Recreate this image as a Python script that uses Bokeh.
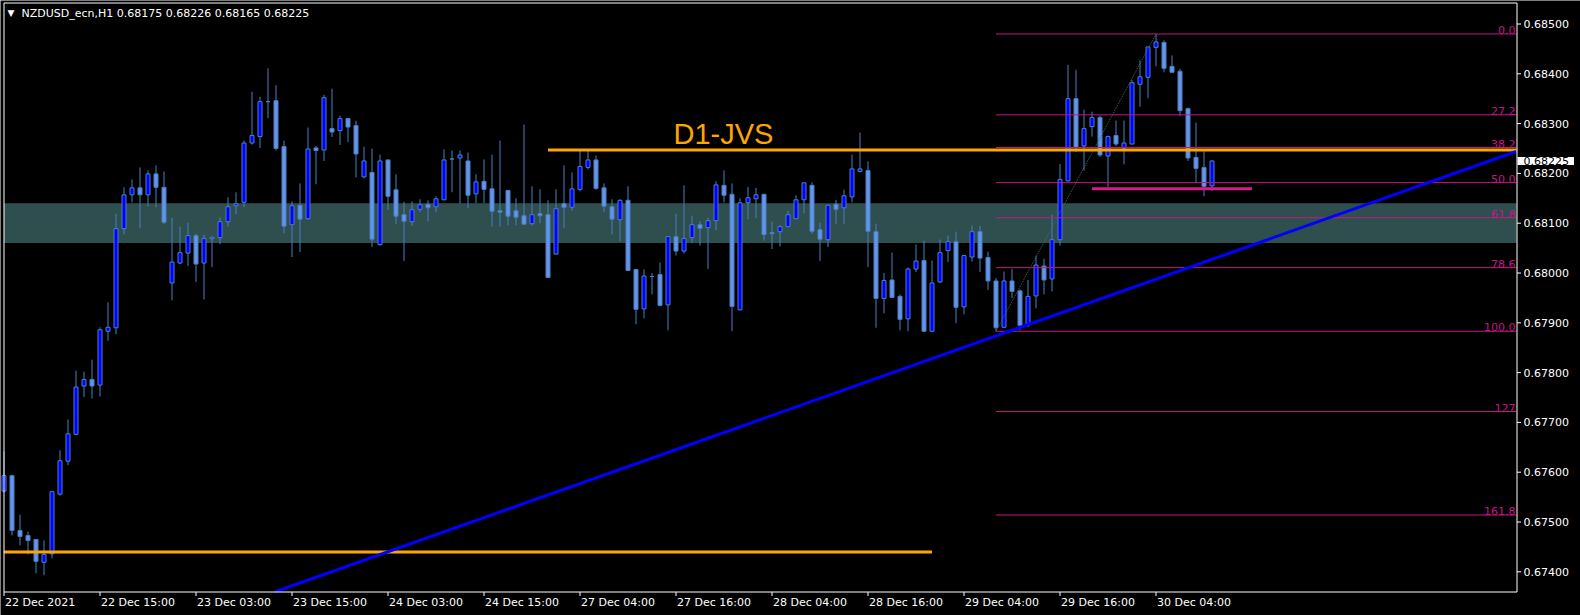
from bokeh.plotting import figure
from bokeh.models import Range1d, Label
from bokeh.core.properties import value
from bokeh.embed import file_html
from bokeh.resources import INLINE

# ---------------- data (NZDUSD_ecn, H1) ----------------
OPEN = [0.67562, 0.67593, 0.67483, 0.67473, 0.67465, 0.67419, 0.67436, 0.67556, 0.67622, 0.67676,
        0.67773, 0.67786, 0.67775, 0.67883, 0.67890, 0.68089, 0.68157, 0.68171, 0.68157, 0.68199,
        0.68172, 0.67980, 0.68020, 0.68040, 0.68075, 0.68020, 0.68069, 0.68071, 0.68103, 0.68135,
        0.68142, 0.68261, 0.68274, 0.68344, 0.68346, 0.68254, 0.68097, 0.68136, 0.68109, 0.68251,
        0.68247, 0.68290, 0.68286, 0.68310, 0.68296, 0.68193, 0.68202, 0.68057, 0.68227, 0.68167,
        0.68117, 0.68103, 0.68128, 0.68138, 0.68133, 0.68147, 0.68229, 0.68231, 0.68225, 0.68159,
        0.68184, 0.68169, 0.68125, 0.68166, 0.68125, 0.68115, 0.68099, 0.68119, 0.68117, 0.68038,
        0.68139, 0.68132, 0.68168, 0.68212, 0.68227, 0.68171, 0.68133, 0.68107, 0.68146, 0.68007,
        0.67928, 0.67993, 0.67997, 0.67936, 0.68073, 0.68044, 0.68071, 0.68097, 0.68091, 0.68105,
        0.68176, 0.68158, 0.67926, 0.68141, 0.68149, 0.68158, 0.68081, 0.68083, 0.68093, 0.68109,
        0.68147, 0.68176, 0.68087, 0.68067, 0.68138, 0.68131, 0.68153, 0.68204, 0.68206, 0.68083,
        0.67949, 0.67986, 0.67953, 0.67908, 0.68008, 0.68025, 0.67883, 0.67982, 0.68045, 0.68063,
        0.67932, 0.68032, 0.68083, 0.68031, 0.67984, 0.67891, 0.67984, 0.67964, 0.67895, 0.67954,
        0.68014, 0.67988, 0.68067, 0.68185, 0.68350, 0.68255, 0.68294, 0.68312, 0.68235, 0.68276,
        0.68251, 0.68259, 0.68379, 0.68393, 0.68453, 0.68463, 0.68415, 0.68405, 0.68330, 0.68232,
        0.68212, 0.68175]
HIGH = [0.67642, 0.67595, 0.67515, 0.67481, 0.67466, 0.67463, 0.67561, 0.67644, 0.67706, 0.67804,
        0.67802, 0.67826, 0.67891, 0.67941, 0.68119, 0.68172, 0.68188, 0.68212, 0.68206, 0.68216,
        0.68204, 0.68111, 0.68093, 0.68101, 0.68079, 0.68077, 0.68073, 0.68112, 0.68152, 0.68162,
        0.68266, 0.68364, 0.68354, 0.68411, 0.68377, 0.68266, 0.68144, 0.68180, 0.68292, 0.68255,
        0.68358, 0.68370, 0.68316, 0.68311, 0.68306, 0.68254, 0.68250, 0.68238, 0.68228, 0.68198,
        0.68143, 0.68144, 0.68148, 0.68146, 0.68154, 0.68248, 0.68246, 0.68246, 0.68242, 0.68198,
        0.68228, 0.68238, 0.68266, 0.68166, 0.68150, 0.68298, 0.68174, 0.68168, 0.68146, 0.68168,
        0.68216, 0.68202, 0.68246, 0.68246, 0.68236, 0.68180, 0.68148, 0.68148, 0.68174, 0.68008,
        0.68007, 0.68000, 0.68021, 0.68073, 0.68119, 0.68176, 0.68115, 0.68104, 0.68111, 0.68184,
        0.68206, 0.68180, 0.68150, 0.68173, 0.68171, 0.68159, 0.68103, 0.68096, 0.68125, 0.68156,
        0.68182, 0.68182, 0.68101, 0.68136, 0.68147, 0.68167, 0.68238, 0.68282, 0.68224, 0.68099,
        0.68000, 0.68041, 0.67957, 0.68011, 0.68057, 0.68065, 0.68025, 0.68067, 0.68075, 0.68083,
        0.68035, 0.68095, 0.68095, 0.68043, 0.67990, 0.68003, 0.68008, 0.67967, 0.67986, 0.68035,
        0.68029, 0.68117, 0.68219, 0.68418, 0.68408, 0.68328, 0.68324, 0.68316, 0.68276, 0.68306,
        0.68306, 0.68388, 0.68427, 0.68454, 0.68480, 0.68467, 0.68437, 0.68410, 0.68332, 0.68302,
        0.68244, 0.68226]
LOW = [0.67560, 0.67473, 0.67453, 0.67435, 0.67397, 0.67393, 0.67427, 0.67553, 0.67614, 0.67674,
       0.67751, 0.67748, 0.67752, 0.67864, 0.67877, 0.68077, 0.68142, 0.68090, 0.68134, 0.68132,
       0.68098, 0.67945, 0.68018, 0.68014, 0.67982, 0.67947, 0.68012, 0.68058, 0.68093, 0.68118,
       0.68132, 0.68258, 0.68251, 0.68311, 0.68246, 0.68080, 0.68032, 0.68042, 0.68107, 0.68178,
       0.68225, 0.68273, 0.68257, 0.68263, 0.68192, 0.68190, 0.68052, 0.68055, 0.68127, 0.68098,
       0.68024, 0.68094, 0.68122, 0.68104, 0.68122, 0.68146, 0.68162, 0.68139, 0.68130, 0.68140,
       0.68140, 0.68093, 0.68093, 0.68096, 0.68096, 0.68096, 0.68095, 0.68100, 0.67990, 0.68037,
       0.68091, 0.68125, 0.68164, 0.68208, 0.68167, 0.68123, 0.68077, 0.68064, 0.68004, 0.67897,
       0.67909, 0.67957, 0.67933, 0.67885, 0.68035, 0.68039, 0.68060, 0.68055, 0.68008, 0.68086,
       0.68142, 0.67883, 0.67925, 0.68108, 0.68110, 0.68065, 0.68048, 0.68053, 0.68092, 0.68108,
       0.68120, 0.68079, 0.68024, 0.68052, 0.68098, 0.68098, 0.68142, 0.68202, 0.68012, 0.67890,
       0.67919, 0.67950, 0.67885, 0.67883, 0.68002, 0.67882, 0.67881, 0.67980, 0.68022, 0.67899,
       0.67917, 0.68023, 0.68002, 0.67966, 0.67883, 0.67890, 0.67950, 0.67885, 0.67891, 0.67929,
       0.67957, 0.67963, 0.68055, 0.68184, 0.68243, 0.68206, 0.68274, 0.68233, 0.68172, 0.68255,
       0.68218, 0.68258, 0.68334, 0.68351, 0.68415, 0.68403, 0.68403, 0.68315, 0.68225, 0.68181,
       0.68154, 0.68165]
CLOSE = [0.67593, 0.67483, 0.67471, 0.67463, 0.67421, 0.67435, 0.67561, 0.67623, 0.67677, 0.67771,
         0.67786, 0.67773, 0.67886, 0.67891, 0.68089, 0.68157, 0.68171, 0.68157, 0.68199, 0.68172,
         0.68102, 0.68022, 0.68041, 0.68075, 0.68018, 0.68069, 0.68072, 0.68103, 0.68133, 0.68139,
         0.68261, 0.68276, 0.68344, 0.68344, 0.68250, 0.68094, 0.68135, 0.68108, 0.68249, 0.68246,
         0.68352, 0.68283, 0.68310, 0.68293, 0.68239, 0.68225, 0.68068, 0.68225, 0.68154, 0.68114,
         0.68104, 0.68127, 0.68137, 0.68131, 0.68149, 0.68227, 0.68229, 0.68237, 0.68156, 0.68183,
         0.68168, 0.68124, 0.68122, 0.68114, 0.68112, 0.68098, 0.68117, 0.68115, 0.67991, 0.68129,
         0.68132, 0.68169, 0.68214, 0.68227, 0.68170, 0.68134, 0.68108, 0.68146, 0.68005, 0.67927,
         0.67994, 0.67993, 0.67935, 0.68073, 0.68044, 0.68069, 0.68097, 0.68090, 0.68105, 0.68177,
         0.68156, 0.67933, 0.68141, 0.68151, 0.68157, 0.68077, 0.68079, 0.68093, 0.68117, 0.68147,
         0.68181, 0.68084, 0.68068, 0.68136, 0.68128, 0.68155, 0.68209, 0.68209, 0.68084, 0.67949,
         0.67985, 0.67951, 0.67907, 0.68008, 0.68024, 0.67883, 0.67980, 0.68041, 0.68063, 0.67931,
         0.68035, 0.68083, 0.68030, 0.67984, 0.67890, 0.67984, 0.67963, 0.67895, 0.67953, 0.68016,
         0.67986, 0.68067, 0.68188, 0.68350, 0.68253, 0.68290, 0.68312, 0.68237, 0.68274, 0.68259,
         0.68261, 0.68382, 0.68394, 0.68454, 0.68464, 0.68411, 0.68403, 0.68326, 0.68231, 0.68210,
         0.68174, 0.68225]

TIME_TICKS = [0, 12, 24, 36, 48, 60, 72, 84, 96, 108, 120, 132, 144]
TIME_LABELS = ["22 Dec 2021", "22 Dec 15:00", "23 Dec 03:00", "23 Dec 15:00",
               "24 Dec 03:00", "24 Dec 15:00", "27 Dec 04:00", "27 Dec 16:00",
               "28 Dec 04:00", "28 Dec 16:00", "29 Dec 04:00", "29 Dec 16:00",
               "30 Dec 04:00"]
PRICE_TICKS = [0.674, 0.675, 0.676, 0.677, 0.678, 0.679,
               0.680, 0.681, 0.682, 0.683, 0.684, 0.685]

FIB_LEVELS = [0.0, 0.272, 0.382, 0.5, 0.618, 0.786, 1.0, 1.27, 1.618]
FIB_LABELS = ["0.0", "27.2", "38.2", "50.0", "61.8", "78.6", "100.0", "127", "161.8"]
FIB_LOW_BAR = 124
FIB_HIGH_BAR = 144

ZONE_BOTTOM = 0.68060
ZONE_TOP = 0.68140
RES_LEVEL = 0.68247      # D1-JVS line
RES_START_BAR = 68
SUP_LEVEL = 0.67440
SUP_END_BAR = 116
TREND_BARS = [33.9, 189.0]
TREND_PRICES = [0.67360, 0.68244]
PINK_LEVEL = 0.68169
PINK_BARS = [136, 156]
LAST_PRICE = 0.68225
SYMBOL = "NZDUSD_ecn,H1"

# ---------------- layout (pixels -> data) ----------------
W, H = 1580, 615


def wx(px):                   # x pixel -> bar index (8 px per bar)
    return -0.0625 + (px - 3) / 8.0


def wy(py):                   # y pixel -> price
    return 0.674 + (571.3 - py) / 49800.0


CH_L, CH_R, CH_T, CH_B = 3.5, 1516.5, 2.5, 591.5     # chart borders
XR = wx(1516)

FONT = "DejaVu Sans"
WICK = "#4A7EC0"
OUTLINE = "#4A7EC0"
BULL_FILL = "#0000FF"
BEAR_FILL = "#6495ED"
FIB_COLOR = "#C71585"
ORANGE = "#FFA500"

p = figure(width=W, height=H,
           x_range=Range1d(wx(0), wx(W)), y_range=Range1d(wy(H), wy(0)),
           output_backend="svg", toolbar_location=None,
           x_axis_location=None, y_axis_location=None,
           min_border=0, min_border_left=0, min_border_right=0,
           min_border_top=0, min_border_bottom=0,
           background_fill_color="black", border_fill_color="black",
           outline_line_color=None)
p.grid.visible = False

# support / resistance zone
p.quad(left=[wx(CH_L)], right=[XR], bottom=[ZONE_BOTTOM], top=[ZONE_TOP],
       fill_color="#2F4F4F", line_color=None)

# candles
idx = list(range(len(OPEN)))
tops = [max(o, c) for o, c in zip(OPEN, CLOSE)]
bots = [min(o, c) for o, c in zip(OPEN, CLOSE)]
fills = [BULL_FILL if c >= o else BEAR_FILL for o, c in zip(OPEN, CLOSE)]
p.segment(x0=idx, y0=HIGH, x1=idx, y1=LOW, line_color=WICK, line_width=1)
p.vbar(x=idx, top=tops, bottom=bots, width=0.5, fill_color=fills,
       line_color=OUTLINE, line_width=1)

# fibonacci retracement
fib_hi = HIGH[FIB_HIGH_BAR]
fib_lo = LOW[FIB_LOW_BAR]
fib_prices = [fib_hi - lv * (fib_hi - fib_lo) for lv in FIB_LEVELS]
n_f = len(fib_prices)
p.segment(x0=[FIB_LOW_BAR] * n_f, x1=[XR] * n_f, y0=fib_prices, y1=fib_prices,
          line_color=FIB_COLOR, line_width=1)
p.line([FIB_LOW_BAR, FIB_HIGH_BAR], [fib_lo, fib_hi], line_color="#416767",
       line_width=1, line_dash="1 1")
p.text(x=[wx(1515)] * n_f, y=fib_prices, text=FIB_LABELS,
       text_align="right", text_baseline="bottom", text_color=FIB_COLOR,
       text_font=value(FONT), text_font_size="11px")

# horizontal levels and trend line
p.line([RES_START_BAR, XR], [RES_LEVEL, RES_LEVEL], line_color=ORANGE, line_width=3)
p.line([wx(CH_L), SUP_END_BAR], [SUP_LEVEL, SUP_LEVEL], line_color=ORANGE, line_width=3)
p.line(PINK_BARS, [PINK_LEVEL, PINK_LEVEL], line_color="#D81B8A", line_width=3)
p.line(TREND_BARS, TREND_PRICES, line_color="#0000FF", line_width=3)

# chart border
p.segment(x0=[wx(CH_L), wx(CH_L), wx(CH_R), wx(CH_L)],
          y0=[wy(CH_T), wy(CH_T), wy(CH_T), wy(CH_B)],
          x1=[wx(CH_R), wx(CH_L), wx(CH_R), wx(CH_R)],
          y1=[wy(CH_T), wy(CH_B), wy(CH_B), wy(CH_B)],
          line_color="white", line_width=1)

# price scale (right)
n_p = len(PRICE_TICKS)
p.segment(x0=[wx(CH_R)] * n_p, x1=[wx(CH_R + 4)] * n_p, y0=PRICE_TICKS,
          y1=PRICE_TICKS, line_color="white", line_width=1)
p.text(x=[wx(1523)] * n_p, y=PRICE_TICKS, text=["%.5f" % t for t in PRICE_TICKS],
       text_align="left", text_baseline="middle", text_color="white",
       text_font=value(FONT), text_font_size="11px")

# time scale (bottom)
n_t = len(TIME_TICKS)
p.segment(x0=TIME_TICKS, x1=TIME_TICKS, y0=[wy(CH_B)] * n_t, y1=[wy(CH_B + 4)] * n_t,
          line_color="white", line_width=1)
p.text(x=[t + 1 / 8.0 for t in TIME_TICKS], y=[wy(602)] * n_t,
       text=TIME_LABELS, text_align="left", text_baseline="middle",
       text_color="white", text_font=value(FONT), text_font_size="11px")

# texts
p.add_layout(Label(x=wx(673), y=wy(133.3), text="D1-JVS", text_color=ORANGE,
                   text_font="Liberation Sans", text_font_size="29px",
                   text_align="left", text_baseline="alphabetic"))

ohlc_text = "  ".join([SYMBOL, " ".join("%.5f" % v for v in
                                          (OPEN[-1], HIGH[-1], LOW[-1], CLOSE[-1]))])
p.add_layout(Label(x=wx(21), y=wy(12.7), text=ohlc_text, text_color="white",
                   text_font=FONT, text_font_size="11px",
                   text_align="left", text_baseline="middle"))
p.add_layout(Label(x=wx(7), y=wy(12.5), text="\u25BC", text_color="white",
                   text_font=FONT, text_font_size="9px",
                   text_align="left", text_baseline="middle"))

p.add_layout(Label(x=wx(1517), y=LAST_PRICE, text="%.5f" % LAST_PRICE,
                   text_color="black", text_font=FONT, text_font_size="11px",
                   text_align="left", text_baseline="middle",
                   background_fill_color="white",
                   padding=dict(left=6, right=5, top=0, bottom=0)))

open("out.html", "w").write(file_html(p, INLINE))
